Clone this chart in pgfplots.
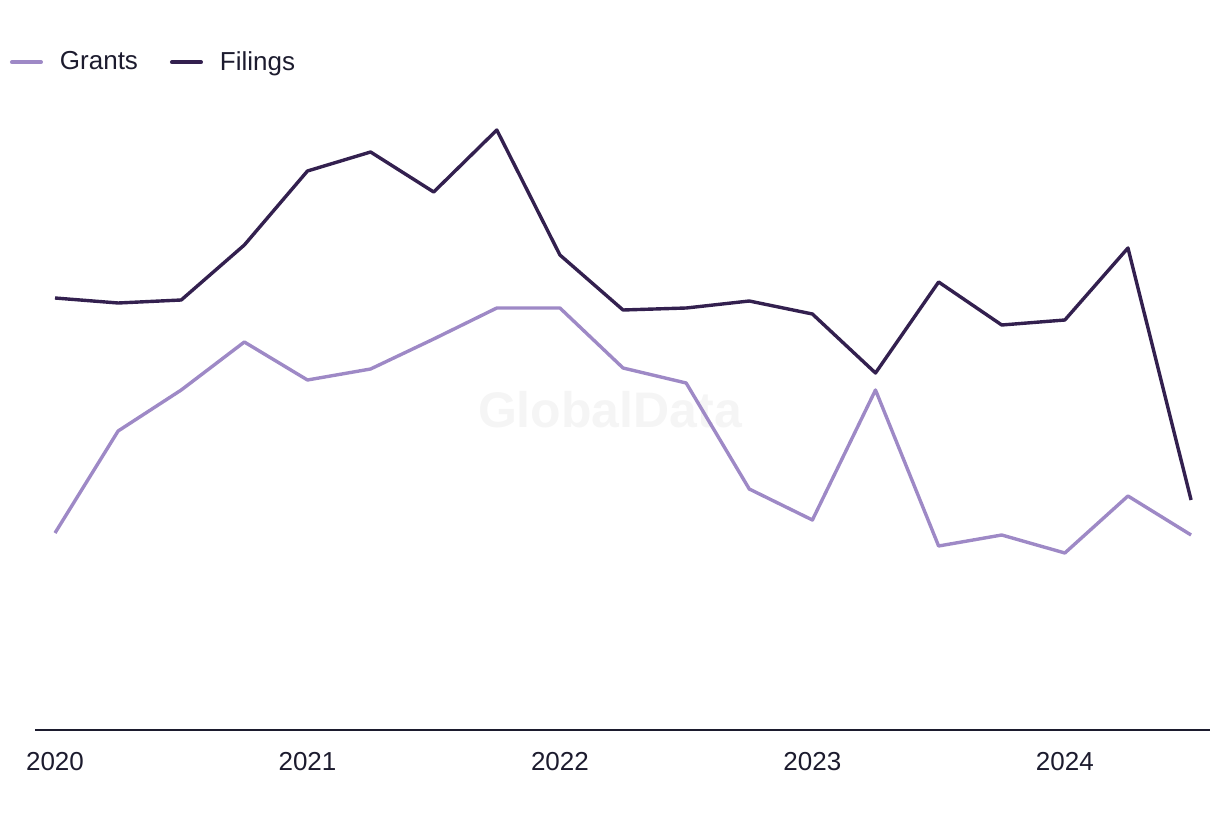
\documentclass[border=0pt]{standalone}
\usepackage{pgfplots}
\pgfplotsset{compat=1.18}
\usepackage{fontspec}
\setmainfont{Liberation Sans}
\definecolor{grants}{HTML}{9E89C6}
\definecolor{filings}{HTML}{33204F}
\definecolor{txt}{HTML}{1C1B2E}
\definecolor{wm}{HTML}{F5F5F5}
\begin{document}
\begin{tikzpicture}[x=1pt,y=1pt]
\path[use as bounding box] (0,0) rectangle (610,410);
\node[text=wm, font=\bfseries\fontsize{25}{25}\selectfont] at (305,205) {GlobalData};
\begin{axis}[
  at={(17.5pt,45pt)}, anchor=south west,
  scale only axis, width=587.5pt, height=315pt,
  xmin=-0.317, xmax=18.30, ymin=0, ymax=630,
  axis y line=none, axis x line*=bottom,
  x axis line style={-, draw=txt, line width=1pt},
  xtick={0,4,8,12,16}, xticklabels={2020,2021,2022,2023,2024},
  major tick length=0pt,
  xticklabel style={anchor=north, inner sep=0pt, yshift=-11pt, text=txt},
  ticklabel style={font=\fontsize{13}{15}\selectfont},
  clip=false,
  legend style={at={(-0.0213,1.060)}, anchor=west, draw=none, fill=none,
    inner sep=0pt, outer sep=0pt, font=\fontsize{13}{15}\selectfont, text=txt,
    nodes={inner sep=0pt},
    /tikz/every odd column/.append style={column sep=8.5pt},
    /tikz/every even column/.append style={column sep=16pt}},
  legend columns=2,
  legend image code/.code={\draw[#1, line width=2pt, line cap=round] (0.5pt,0pt) -- (15pt,0pt);},
]
\addplot[grants, line width=1.7pt, line join=round, mark=none] coordinates {
(0,197) (1,299) (2,340) (3,388) (4,350) (5,361) (6,391) (7,422) (8,422) (9,362)
(10,347) (11,241) (12,210) (13,340) (14,184) (15,195) (16,177) (17,234) (18,195)};
\addlegendentry{Grants}
\addplot[filings, line width=1.7pt, line join=round, mark=none] coordinates {
(0,432) (1,427) (2,430) (3,485) (4,559) (5,578) (6,538) (7,600) (8,475) (9,420)
(10,422) (11,429) (12,416) (13,357) (14,448) (15,405) (16,410) (17,482) (18,230)};
\addlegendentry{Filings}
\end{axis}
\end{tikzpicture}
\end{document}
